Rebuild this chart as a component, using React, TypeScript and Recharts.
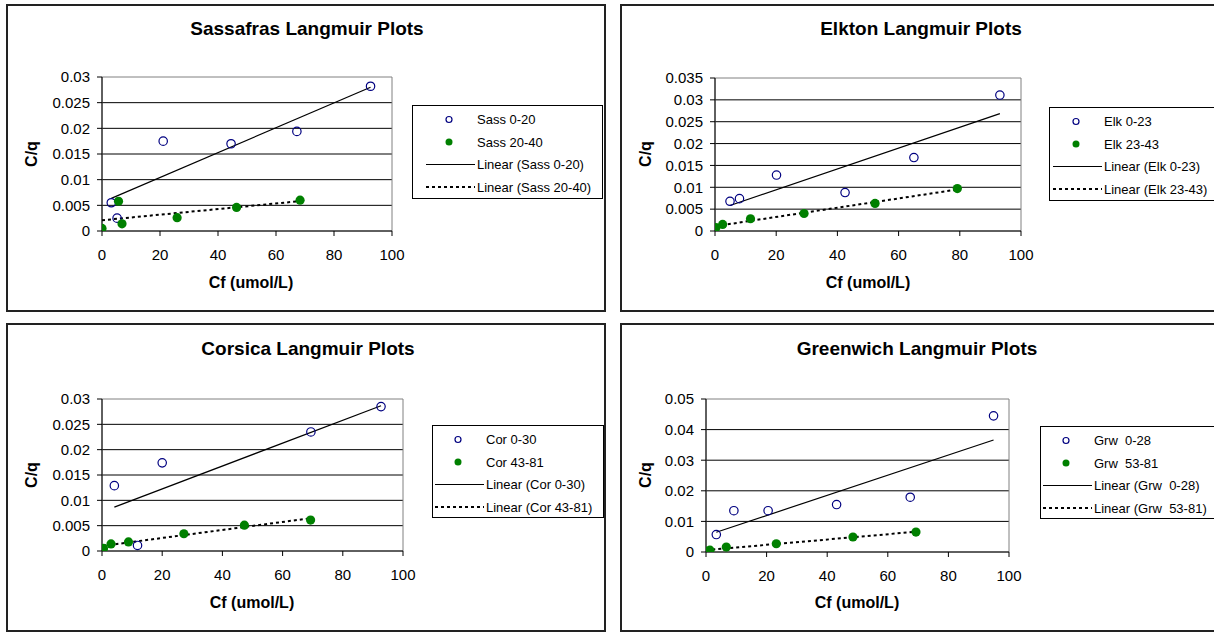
import React from "react";
import {
  ScatterChart,
  Scatter,
  XAxis,
  YAxis,
  CartesianGrid,
  ReferenceLine,
  ReferenceArea,
  Legend,
} from "recharts";

const FONT = "Arial, 'Liberation Sans', sans-serif";

const xTicks = [0, 20, 40, 60, 80, 100];
const yTicks03 = [0, 0.005, 0.01, 0.015, 0.02, 0.025, 0.03];
const yTicks035 = [0, 0.005, 0.01, 0.015, 0.02, 0.025, 0.03, 0.035];
const yTicks05 = [0, 0.01, 0.02, 0.03, 0.04, 0.05];

// Sassafras
const sassTopX = [3.2, 5.2, 21.1, 44.5, 67.2, 92.6];
const sassTopY = [0.0055, 0.0025, 0.0175, 0.017, 0.0194, 0.0282];
const sassSubX = [0, 5.7, 6.9, 25.9, 46.4, 68.3];
const sassSubY = [0.0005, 0.0058, 0.0014, 0.0026, 0.0046, 0.006];

// Elkton
const elkTopX = [4.9, 8.0, 20.1, 42.5, 65.0, 93.1];
const elkTopY = [0.0068, 0.0074, 0.0128, 0.0088, 0.0168, 0.0311];
const elkSubX = [0.3, 2.5, 11.6, 29.1, 52.3, 79.2];
const elkSubY = [0.0008, 0.0015, 0.0028, 0.004, 0.0063, 0.0097];

// Corsica
const corTopX = [4.1, 11.8, 20.0, 69.4, 92.7];
const corTopY = [0.0129, 0.0011, 0.0174, 0.0235, 0.0285];
const corSubX = [0.5, 3.0, 8.8, 27.2, 47.3, 69.3];
const corSubY = [0.0005, 0.0014, 0.0018, 0.0034, 0.0051, 0.0061];

// Greenwich
const grwTopX = [3.4, 9.2, 20.5, 43.1, 67.4, 94.9];
const grwTopY = [0.0057, 0.0135, 0.0135, 0.0155, 0.0179, 0.0445];
const grwSubX = [0.1, 1.3, 6.7, 23.2, 48.5, 69.3];
const grwSubY = [0.0003, 0.0006, 0.0016, 0.0027, 0.0049, 0.0065];

type Pt = { x: number; y: number };
const zip = (xs: number[], ys: number[]): Pt[] => xs.map((x, i) => ({ x, y: ys[i] }));

// least squares line over the data's x range, like an Excel linear trendline
function trend(pts: Pt[]): Pt[] {
  const n = pts.length;
  const mx = pts.reduce((s, p) => s + p.x, 0) / n;
  const my = pts.reduce((s, p) => s + p.y, 0) / n;
  let sxy = 0;
  let sxx = 0;
  pts.forEach((p) => {
    sxy += (p.x - mx) * (p.y - my);
    sxx += (p.x - mx) * (p.x - mx);
  });
  const b = sxy / sxx;
  const a = my - b * mx;
  const xs = pts.map((p) => p.x);
  const x0 = Math.min(...xs);
  const x1 = Math.max(...xs);
  return [
    { x: x0, y: a + b * x0 },
    { x: x1, y: a + b * x1 },
  ];
}

const OpenDot = (p: any) => (
  <circle cx={p.cx} cy={p.cy} r={4.2} fill="none" stroke="#000080" strokeWidth={1.2} />
);
const GreenDot = (p: any) => <circle cx={p.cx} cy={p.cy} r={4.6} fill="#008000" />;

function LegendBox({ names, w, h, pad }: { names: string[]; w: number; h: number; pad: number }) {
  const rows = [14.5, 37, 59.5, 82];
  const labels = [names[0], names[1], `Linear (${names[0]})`, `Linear (${names[1]})`];
  return (
    <svg width={w} height={h} style={{ display: "block" }}>
      <rect x={0.5} y={0.5} width={w - 1} height={h - 1} fill="#fff" stroke="#000" />
      <circle cx={pad + 23} cy={rows[0]} r={3} fill="none" stroke="#000080" strokeWidth={1.2} />
      <circle cx={pad + 23} cy={rows[1]} r={3.5} fill="#008000" />
      <line x1={pad} x2={pad + 49} y1={rows[2]} y2={rows[2]} stroke="#000" strokeWidth={1.2} />
      <line
        x1={pad}
        x2={pad + 49}
        y1={rows[3]}
        y2={rows[3]}
        stroke="#000"
        strokeWidth={2}
        strokeDasharray="3 3"
      />
      {labels.map((t, i) => (
        <text
          key={t}
          x={pad + 51}
          y={rows[i]}
          dy="0.35em"
          fontSize={13}
          fontFamily={FONT}
          fill="#000"
          style={{ whiteSpace: "pre" }}
        >
          {t}
        </text>
      ))}
    </svg>
  );
}

type Geo = {
  box: { x: number; y: number; w: number; h: number };
  plot: { l: number; r: number; t: number; b: number };
  legend: { x: number; y: number; w: number; h: number; pad: number };
  title: { cx: number; cy: number };
  xTitle: { cx: number; cy: number };
  yTitle: { cx: number; cy: number };
};

function Panel({
  title,
  names,
  top,
  sub,
  yTicks,
  geo,
}: {
  title: string;
  names: string[];
  top: Pt[];
  sub: Pt[];
  yTicks: number[];
  geo: Geo;
}) {
  const { box, plot, legend } = geo;
  const yMax = yTicks[yTicks.length - 1];
  const inner = yTicks.slice(1, -1);
  const abs = (x: number, y: number): React.CSSProperties => ({ position: "absolute", left: x, top: y });
  return (
    <>
      <div
        style={{
          ...abs(box.x, box.y),
          width: box.w,
          height: box.h,
          border: "2px solid #222",
          boxSizing: "border-box",
        }}
      />
      <div style={abs(box.x, box.y)}>
        <ScatterChart
          width={box.w}
          height={box.h}
          margin={{ top: plot.t - box.y, right: box.x + box.w - plot.r, bottom: 0, left: 0 }}
        >
          <CartesianGrid vertical={false} horizontalValues={inner} stroke="#000" strokeWidth={1} />
          <ReferenceArea
            x1={0}
            x2={100}
            y1={0}
            y2={yMax}
            fill="none"
            stroke="#808080"
            strokeWidth={1}
            ifOverflow="visible"
          />
          <XAxis
            type="number"
            dataKey="x"
            domain={[0, 100]}
            ticks={xTicks}
            interval={0}
            allowDataOverflow
            height={box.y + box.h - plot.b}
            tickSize={5}
            tickMargin={13}
            axisLine={{ stroke: "#000" }}
            tickLine={{ stroke: "#000" }}
            tick={{ fill: "#000", fontSize: 15, fontFamily: FONT }}
          />
          <YAxis
            type="number"
            dataKey="y"
            domain={[0, yMax]}
            ticks={yTicks}
            interval={0}
            allowDataOverflow
            width={plot.l - box.x}
            tickSize={5}
            tickMargin={7}
            axisLine={{ stroke: "#000" }}
            tickLine={{ stroke: "#000" }}
            tick={{ fill: "#000", fontSize: 15, fontFamily: FONT }}
            tickFormatter={(v: number) => String(v)}
          />
          <ReferenceLine segment={trend(top)} stroke="#000" strokeWidth={1.2} ifOverflow="visible" />
          <ReferenceLine
            segment={trend(sub)}
            stroke="#000"
            strokeWidth={2}
            strokeDasharray="3 3"
            ifOverflow="visible"
          />
          <Scatter name={names[0]} data={top} shape={OpenDot} isAnimationActive={false} />
          <Scatter name={names[1]} data={sub} shape={GreenDot} isAnimationActive={false} />
          <Legend
            layout="vertical"
            align="center"
            verticalAlign="middle"
            wrapperStyle={{ left: legend.x - box.x, top: legend.y - box.y, width: legend.w, height: legend.h }}
            content={() => <LegendBox names={names} w={legend.w} h={legend.h} pad={legend.pad} />}
          />
        </ScatterChart>
      </div>
      <div
        style={{
          ...abs(geo.title.cx - 200, geo.title.cy - 12),
          width: 400,
          lineHeight: "24px",
          textAlign: "center",
          fontSize: 19,
          fontWeight: "bold",
          fontFamily: FONT,
        }}
      >
        {title}
      </div>
      <div
        style={{
          ...abs(geo.xTitle.cx - 100, geo.xTitle.cy - 10),
          width: 200,
          lineHeight: "20px",
          textAlign: "center",
          fontSize: 16,
          fontWeight: "bold",
          fontFamily: FONT,
        }}
      >
        Cf (umol/L)
      </div>
      <div
        style={{
          ...abs(geo.yTitle.cx - 30, geo.yTitle.cy - 10),
          width: 60,
          lineHeight: "20px",
          textAlign: "center",
          fontSize: 16,
          fontWeight: "bold",
          fontFamily: FONT,
          transform: "rotate(-90deg)",
        }}
      >
        C/q
      </div>
    </>
  );
}

const geoA: Geo = {
  box: { x: 6, y: 4, w: 600, h: 308 },
  plot: { l: 102, r: 392, t: 77, b: 231 },
  legend: { x: 412, y: 105, w: 191, h: 94, pad: 14 },
  title: { cx: 307, cy: 29 },
  xTitle: { cx: 251, cy: 283 },
  yTitle: { cx: 32, cy: 154 },
};
const geoB: Geo = {
  box: { x: 620, y: 4, w: 596, h: 308 },
  plot: { l: 715, r: 1021, t: 78, b: 231 },
  legend: { x: 1049, y: 107, w: 167, h: 94, pad: 4 },
  title: { cx: 921, cy: 29 },
  xTitle: { cx: 868, cy: 283 },
  yTitle: { cx: 646, cy: 154 },
};
const geoC: Geo = {
  box: { x: 6, y: 323, w: 600, h: 309 },
  plot: { l: 102, r: 403, t: 399, b: 551 },
  legend: { x: 432, y: 425, w: 172, h: 93, pad: 3 },
  title: { cx: 308, cy: 349 },
  xTitle: { cx: 252, cy: 603 },
  yTitle: { cx: 32, cy: 475 },
};
const geoD: Geo = {
  box: { x: 620, y: 323, w: 596, h: 309 },
  plot: { l: 706, r: 1009, t: 399, b: 552 },
  legend: { x: 1040, y: 426, w: 176, h: 93, pad: 3 },
  title: { cx: 917, cy: 349 },
  xTitle: { cx: 857, cy: 603 },
  yTitle: { cx: 646, cy: 475 },
};

export default function App() {
  return (
    <div
      style={{
        position: "absolute",
        left: 0,
        top: 0,
        width: 1214,
        height: 633,
        overflow: "hidden",
        background: "#fff",
      }}
    >
      <Panel
        title="Sassafras Langmuir Plots"
        names={["Sass 0-20", "Sass 20-40"]}
        top={zip(sassTopX, sassTopY)}
        sub={zip(sassSubX, sassSubY)}
        yTicks={yTicks03}
        geo={geoA}
      />
      <Panel
        title="Elkton Langmuir Plots"
        names={["Elk 0-23", "Elk 23-43"]}
        top={zip(elkTopX, elkTopY)}
        sub={zip(elkSubX, elkSubY)}
        yTicks={yTicks035}
        geo={geoB}
      />
      <Panel
        title="Corsica Langmuir Plots"
        names={["Cor 0-30", "Cor 43-81"]}
        top={zip(corTopX, corTopY)}
        sub={zip(corSubX, corSubY)}
        yTicks={yTicks03}
        geo={geoC}
      />
      <Panel
        title="Greenwich Langmuir Plots"
        names={["Grw  0-28", "Grw  53-81"]}
        top={zip(grwTopX, grwTopY)}
        sub={zip(grwSubX, grwSubY)}
        yTicks={yTicks05}
        geo={geoD}
      />
    </div>
  );
}
